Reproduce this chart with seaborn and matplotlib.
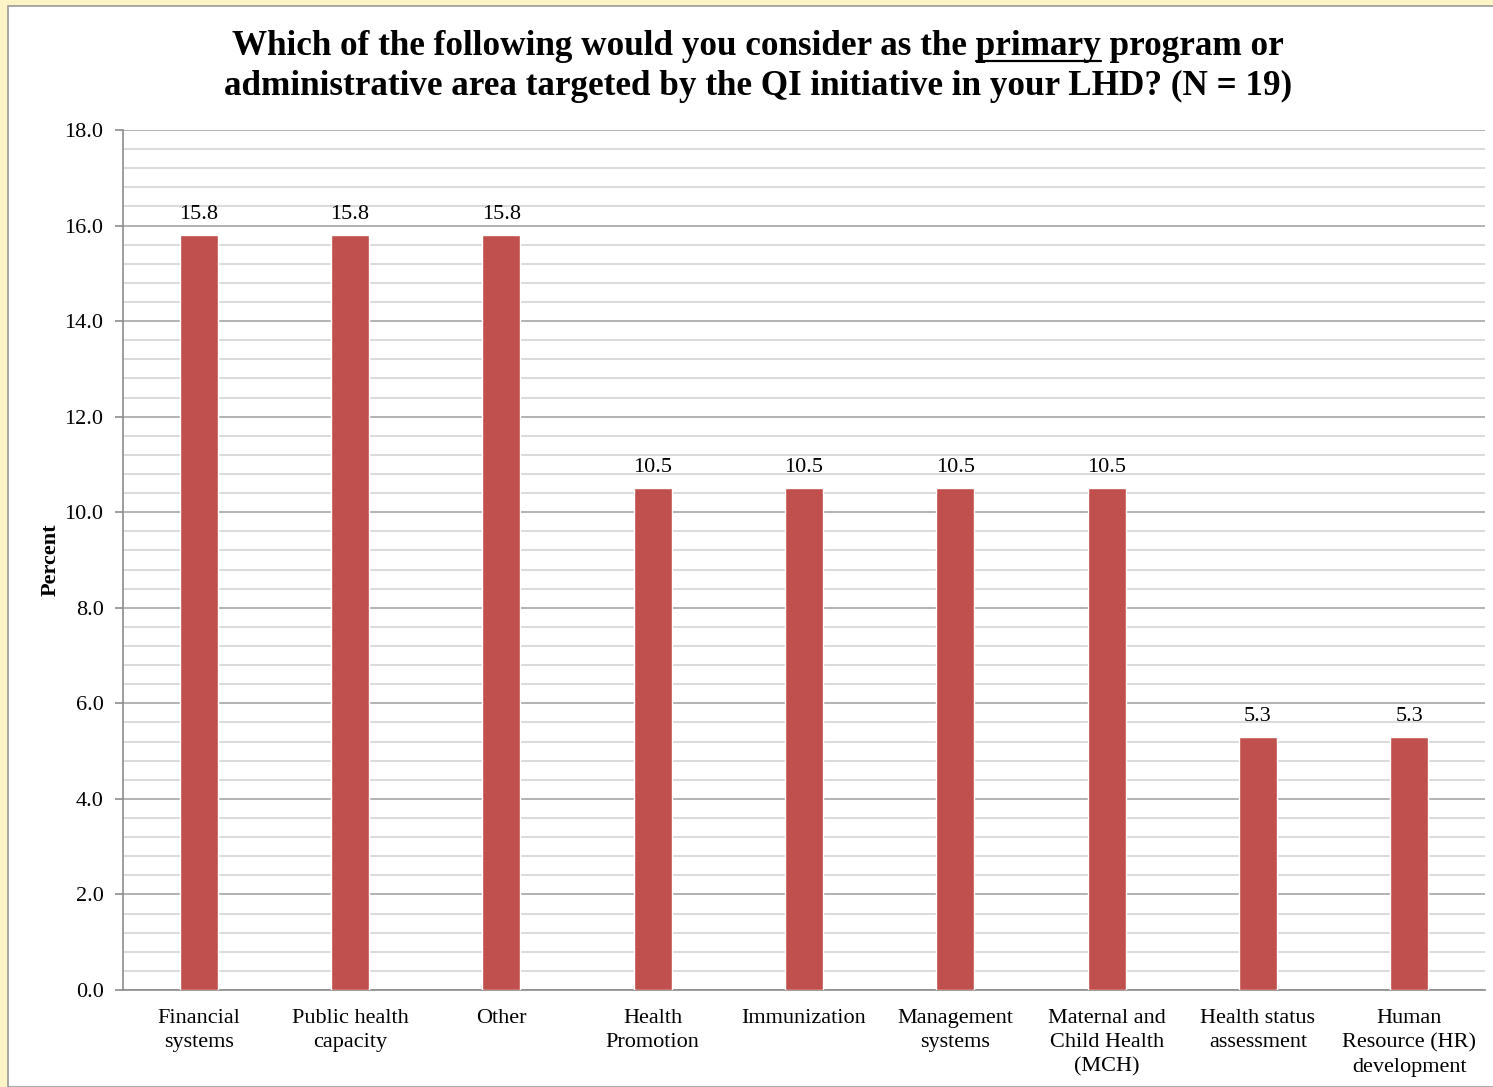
import matplotlib
matplotlib.use("Agg")
import matplotlib.pyplot as plt
from matplotlib.patches import Rectangle
from matplotlib.lines import Line2D
from matplotlib.ticker import MultipleLocator
import seaborn as sns
import pandas as pd

categories = [
    "Financial\nsystems",
    "Public health\ncapacity",
    "Other",
    "Health\nPromotion",
    "Immunization",
    "Management\nsystems",
    "Maternal and\nChild Health\n(MCH)",
    "Health status\nassessment",
    "Human\nResource (HR)\ndevelopment",
]
percent = [15.8, 15.8, 15.8, 10.5, 10.5, 10.5, 10.5, 5.3, 5.3]

sns.set_theme(style="white")
plt.rcParams["font.family"] = ["Liberation Serif", "DejaVu Serif"]

W, H = 1493, 1087
fig = plt.figure(figsize=(W / 100, H / 100), dpi=100, facecolor="#FCF3C6")

# white slide panel with thin grey border, kept behind the axes
panel = Rectangle((8 / W, 0), 1 - 8 / W + 0.01, 1 - 6 / H, transform=fig.transFigure,
                  facecolor="white", edgecolor="#9A9A9A", linewidth=1.2, zorder=-10)
fig.patches.append(panel)

ax = fig.add_axes([123 / W, 1 - 990 / H, (1485 - 123) / W, (990 - 130) / H])
ax.set_facecolor("none")
ax.set_zorder(1)

df = pd.DataFrame({"category": categories, "percent": percent})
sns.barplot(data=df, x="category", y="percent", color="#C0504D", saturation=1,
            width=0.25, ax=ax, zorder=3)

ax.set_ylim(0, 18)
ax.set_xlim(-0.5, len(categories) - 0.5)
ax.yaxis.set_major_locator(MultipleLocator(2))
ax.yaxis.set_minor_locator(MultipleLocator(0.4))
ax.yaxis.set_major_formatter(lambda v, pos: f"{v:.1f}")

ax.grid(which="major", axis="y", color="#A6A6A6", linewidth=1.2, zorder=1)
ax.grid(which="minor", axis="y", color="#D4D4D4", linewidth=1.2, zorder=1)
ax.grid(axis="x", visible=False)
ax.set_axisbelow(True)

for side in ("top", "right"):
    ax.spines[side].set_visible(False)
for side in ("left", "bottom"):
    ax.spines[side].set_visible(True)
    ax.spines[side].set_color("#8C8C8C")
    ax.spines[side].set_linewidth(1.2)

ax.tick_params(axis="y", which="major", left=True, length=6, width=1.2, color="#8C8C8C",
               labelsize=16, pad=8, labelcolor="black")
ax.tick_params(axis="y", which="minor", left=False)
ax.tick_params(axis="x", bottom=False, labelsize=16, pad=8, labelcolor="black")
for lbl in ax.get_xticklabels():
    lbl.set_linespacing(1.35)
    lbl.set_verticalalignment("top")

ax.set_xlabel("")
ax.set_ylabel("Percent", fontsize=16, fontweight="bold", color="black")
ax.yaxis.set_label_coords(-0.046, 0.5)

for i, v in enumerate(percent):
    ax.annotate(f"{v:.1f}", (i, v), xytext=(0, 8), textcoords="offset points",
                ha="center", va="bottom", fontsize=16, color="black")

# title, with "primary" underlined
fs_title = 25.3
title_kw = dict(fontsize=fs_title, fontweight="bold", ha="center", va="baseline", color="black")
line1 = "Which of the following would you consider as the primary program or"
line2 = "administrative area targeted by the QI initiative in your LHD? (N = 19)"
cx = 758 / W
t1 = fig.text(cx, 1 - 55 / H, line1, **title_kw)
fig.text(cx, 1 - 95 / H, line2, **title_kw)

fig.canvas.draw()
renderer = fig.canvas.get_renderer()
full_bb = t1.get_window_extent(renderer)
prefix = "Which of the following would you consider as the "
probe = fig.text(0, 0, prefix + "primary", fontsize=fs_title, fontweight="bold")
probe_only = fig.text(0, 0, "primary", fontsize=fs_title, fontweight="bold")
w_with = probe.get_window_extent(renderer).width
w_word = probe_only.get_window_extent(renderer).width
probe.remove()
probe_only.remove()
x_end = full_bb.x0 + w_with
x_start = x_end - w_word
y_line = (H - 55) - 6
fig.add_artist(Line2D([x_start / W, x_end / W], [y_line / H, y_line / H],
                      transform=fig.transFigure, color="black", linewidth=1.6))

fig.savefig("out.png", dpi=100, facecolor=fig.get_facecolor())
